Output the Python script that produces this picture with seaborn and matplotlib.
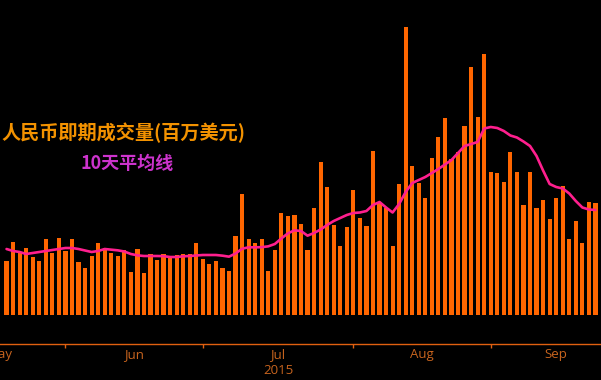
import matplotlib
matplotlib.use("Agg")
import matplotlib.pyplot as plt
import pandas as pd
import seaborn as sns

# daily CNY spot volume (million USD) and its 10-day average
volume = [16200, 21900, 18900, 20100, 17400, 16200, 22800, 18600, 23100, 19200,
          22800, 15900, 14100, 17700, 21600, 20100, 18600, 17700, 19500, 12900,
          19800, 12600, 18300, 16500, 18300, 17400, 18000, 18300, 18300, 21600,
          16800, 15300, 16200, 14100, 13200, 23700, 36300, 22800, 21600, 22800,
          13200, 19500, 30600, 29700, 30000, 27300, 19500, 32100, 45900, 38400,
          27000, 20700, 26400, 37500, 29100, 26700, 49200, 33600, 32100, 20700,
          39300, 86400, 44700, 39600, 35100, 47100, 53400, 59100, 46800, 48900,
          56700, 74400, 59400, 78300, 42900, 42600, 39900, 48900, 42900, 33000,
          42900, 32100, 34500, 28800, 35100, 38700, 22800, 28200, 21600, 33900,
          33600]
ma10 = [19800, 19200, 18900, 18300, 18600, 18900, 19200, 19500, 19800, 20100,
        20100, 19800, 19350, 18900, 19200, 19800, 19600, 19400, 19050, 18300,
        17900, 17700, 17700, 17700, 17650, 17400, 17400, 17600, 17700, 17850,
        18000, 18000, 18000, 17800, 17500, 18450, 19900, 20300, 20300, 20350,
        20600, 21300, 22950, 24500, 25400, 25200, 23800, 24600, 25650, 27000,
        28200, 29100, 30000, 30600, 30750, 31200, 33000, 33900, 32250, 30750,
        33300, 36900, 39600, 40500, 41400, 42600, 43800, 45150, 46500, 48600,
        50700, 51300, 51900, 55950, 56400, 56100, 55200, 53850, 53250, 52050,
        50700, 47700, 43350, 39300, 38400, 37950, 36450, 34200, 32250, 31650,
        31500]

# onshore trading calendar (Dragon Boat + Victory Day holidays removed)
holidays = ["2015-06-22", "2015-09-03", "2015-09-04"]
calendar = pd.bdate_range("2015-05-04", "2015-09-30", freq="C", holidays=holidays)
first_day = "2015-05-19"
months = ["2015-05-01", "2015-06-01", "2015-07-01", "2015-08-01", "2015-09-01", "2015-10-01"]
month_labels = ["May", "Jun", "Jul\n2015", "Aug", "Sep"]

title = "人民币即期成交量(百万美元)"
legend_label = "10天平均线"

start = calendar.searchsorted(pd.Timestamp(first_day))
dates = calendar[start:start + len(volume)]
df = pd.DataFrame({"date": dates, "pos": range(len(volume)),
                   "volume": volume, "ma10": ma10})

sns.set_theme(style="dark", rc={"axes.facecolor": "black", "figure.facecolor": "black"})
plt.rcParams["font.family"] = ["Noto Sans CJK SC", "DejaVu Sans"]

fig = plt.figure(figsize=(6.01, 3.80), dpi=100)
ax = fig.add_axes([0, 36 / 380, 1, 344 / 380])

sns.barplot(data=df, x="pos", y="volume", color="#ff6600", saturation=1,
            width=0.64, native_scale=True, linewidth=0, edgecolor="none", ax=ax)
sns.lineplot(data=df, x="pos", y="ma10", color="#ff1f8e", lw=1.9, ax=ax)

ax.set_xlim(-0.08, 90.85)
ax.set_ylim(-8700, 94500)
ax.set_xlabel("")
ax.set_ylabel("")
ax.set_yticks([])
ax.grid(False)

bounds = [calendar.searchsorted(pd.Timestamp(m)) - start for m in months]
ax.set_xticks(bounds[1:-1])
ax.set_xticklabels([])
ax.set_xticks([(a + b) / 2 for a, b in zip(bounds[:-1], bounds[1:])], minor=True)
ax.set_xticklabels(month_labels, minor=True, color="#c8641e", fontsize=9.5,
                   family=["Open Sans", "DejaVu Sans"], linespacing=1.25)
ax.tick_params(axis="x", which="major", length=3, width=1, color="#e06010",
               direction="out", bottom=True)
ax.tick_params(axis="x", which="minor", length=0, pad=3)

for s in ["top", "left", "right"]:
    ax.spines[s].set_visible(False)
ax.spines["bottom"].set_color("#e06010")
ax.spines["bottom"].set_linewidth(1)

fig.text(0.002, 1 - 133 / 380, title, color="#f39200", fontsize=13.8,
         fontweight="bold", va="center", ha="left")
fig.text(80 / 601, 1 - 163 / 380, legend_label, color="#cc33cc", fontsize=13,
         fontweight="bold", va="center", ha="left")

plt.savefig("out.png", dpi=100, facecolor="black")
plt.close()
